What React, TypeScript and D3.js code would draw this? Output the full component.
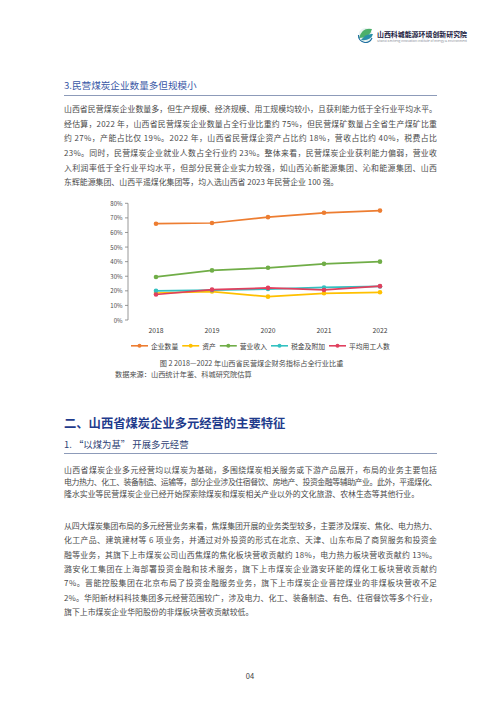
import React from "react";
import * as d3 from "d3";

const years = ["2018", "2019", "2020", "2021", "2022"];
const enterpriseCount = [66, 66.5, 70.5, 73.5, 75];
const assets = [18.5, 19.5, 16, 18.3, 19];
const revenue = [29.5, 34, 35.8, 38.5, 40];
const taxes = [20, 20.5, 21.2, 22.3, 23];
const employees = [17.5, 20.8, 22, 20.6, 23.2];
const seriesNames = ["企业数量", "资产", "营业收入", "税金及附加", "平均用工人数"];
const seriesColors = ["#ED7D31", "#FFC000", "#70AD47", "#33C1C1", "#E0405E"];
const yTicks = [0, 10, 20, 30, 40, 50, 60, 70, 80];

const para1 = [
  "山西省民营煤炭企业数量多，但生产规模、经济规模、用工规模均较小，且获利能力低于全行业平均水平。",
  "经估算，2022 年，山西省民营煤炭企业数量占全行业比重约 75%，但民营煤矿数量占全省生产煤矿比重",
  "约 27%，产能占比仅 19%。2022 年，山西省民营煤企资产占比约 18%，营收占比约 40%，税费占比",
  "23%。同时，民营煤炭企业就业人数占全行业约 23%。整体来看，民营煤炭企业获利能力偏弱，营业收",
  "入利润率低于全行业平均水平，但部分民营企业实力较强，如山西沁新能源集团、沁和能源集团、山西",
  "东辉能源集团、山西平遥煤化集团等，均入选山西省 2023 年民营企业 100 强。",
];
const para2 = [
  "山西省煤炭企业多元经营均以煤炭为基础，多围绕煤炭相关服务或下游产品展开，布局的业务主要包括",
  "电力热力、化工、装备制造、运输等，部分企业涉及住宿餐饮、房地产、投资金融等辅助产业。此外，平遥煤化、",
  "隆水实业等民营煤炭企业已经开始探索除煤炭和煤炭相关产业以外的文化旅游、农林生态等其他行业。",
];
const para3 = [
  "从四大煤炭集团布局的多元经营业务来看，焦煤集团开展的业务类型较多，主要涉及煤炭、焦化、电力热力、",
  "化工产品、建筑建材等 6 项业务，并通过对外投资的形式在北京、天津、山东布局了商贸服务和投资金",
  "融等业务，其旗下上市煤炭公司山西焦煤的焦化板块营收贡献约 18%，电力热力板块营收贡献约 13%。",
  "潞安化工集团在上海部署投资金融和技术服务，旗下上市煤炭企业潞安环能的煤化工板块营收贡献约",
  "7%。晋能控股集团在北京布局了投资金融服务业务，旗下上市煤炭企业晋控煤业的非煤板块营收不足",
  "2%。华阳新材料科技集团多元经营范围较广，涉及电力、化工、装备制造、有色、住宿餐饮等多个行业，",
  "旗下上市煤炭企业华阳股份的非煤板块营收贡献较低。",
];

const FONT = "'Noto Sans CJK SC', 'Noto Sans', sans-serif";
const BODY = "#4a4a4a";

function Paragraph({ lines, y0, step }: { lines: string[]; y0: number; step: number }) {
  return (
    <g>
      {lines.map((l, i) => {
        const last = i === lines.length - 1;
        return (
          <text
            key={i}
            x={64}
            y={y0 + i * step}
            fontSize={7.9}
            fill={BODY}
            dominantBaseline="central"
            {...(last ? {} : { textLength: 373, lengthAdjust: "spacing" })}
          >
            {l}
          </text>
        );
      })}
    </g>
  );
}

export default function App() {
  const series = [enterpriseCount, assets, revenue, taxes, employees];
  const x = d3.scalePoint<string>().domain(years).range([128, 408]).padding(0.5);
  const y = d3.scaleLinear().domain([0, 80]).range([320, 203.3]);
  const line = d3
    .line<number>()
    .x((_, i) => x(years[i]) as number)
    .y((d) => y(d));

  const legFont = 6.8;
  const widths = seriesNames.map((n) => n.length * legFont);
  const legStarts: number[] = [];
  let cx = 131;
  widths.forEach((w) => {
    legStarts.push(cx);
    cx += 17 + 3 + w + 4;
  });

  return (
    <div style={{ position: "absolute", left: 0, top: 0 }}>
      <svg width={500} height={701} style={{ display: "block", fontFamily: FONT }}>
        <rect width={500} height={701} fill="#ffffff" />

        {/* logo */}
        <g>
          <circle cx={365.5} cy={35} r={7} fill="#e8f3f1" />
          <path d="M359 38 Q362 27 372 29 Q370 38 359 38 Z" fill="#4caf6a" />
          <path d="M361 40 Q366 33 373 34 Q371 41 361 40 Z" fill="#2a8fa8" />
          <path d="M358.5 35 A7 7 0 0 0 372 38" fill="none" stroke="#1f6fa0" strokeWidth={1.2} />
          <text x={377} y={33.5} fontSize={6.9} fontWeight={700} fill="#1a2040" dominantBaseline="central" textLength={90} lengthAdjust="spacingAndGlyphs">
            山西科城能源环境创新研究院
          </text>
          <text x={377} y={40.5} fontSize={2.6} fill="#8a8f99" dominantBaseline="central" textLength={90} lengthAdjust="spacingAndGlyphs">
            Shanxi Kecheng Innovation Institute of Energy &amp; Environment
          </text>
        </g>

        {/* section 3 header */}
        <text x={64} y={85} fontSize={9.6} fill="#3a58a6" dominantBaseline="central">
          3.民营煤炭企业数量多但规模小
        </text>
        <line x1={64} x2={437} y1={95.5} y2={95.5} stroke="#8d9bb9" strokeWidth={1} />

        <Paragraph lines={para1} y0={108.3} step={14.7} />

        {/* chart */}
        <g>
          <line x1={128} x2={128} y1={y(80)} y2={y(0)} stroke="#7f7f7f" strokeWidth={0.8} />
          {yTicks.map((t) => (
            <g key={t}>
              <line x1={125} x2={128} y1={y(t)} y2={y(t)} stroke="#7f7f7f" strokeWidth={0.8} />
              <text x={122.5} y={y(t)} fontSize={6} fill="#4a4a4a" textAnchor="end" dominantBaseline="central">
                {t}%
              </text>
            </g>
          ))}
          {years.map((yr) => (
            <text key={yr} x={x(yr)} y={329.5} fontSize={6.8} fill="#404040" textAnchor="middle" dominantBaseline="central">
              {yr}
            </text>
          ))}
          {series.map((s, si) => (
            <g key={si}>
              <path d={line(s) || ""} fill="none" stroke={seriesColors[si]} strokeWidth={1.7} />
              {s.map((v, i) => (
                <circle key={i} cx={x(years[i])} cy={y(v)} r={2.3} fill={seriesColors[si]} />
              ))}
            </g>
          ))}
          {seriesNames.map((n, i) => (
            <g key={n}>
              <line x1={legStarts[i]} x2={legStarts[i] + 17} y1={345.8} y2={345.8} stroke={seriesColors[i]} strokeWidth={1.6} />
              <circle cx={legStarts[i] + 8.5} cy={345.8} r={2} fill={seriesColors[i]} />
              <text x={legStarts[i] + 20} y={345.8} fontSize={legFont} fill="#404040" dominantBaseline="central">
                {n}
              </text>
            </g>
          ))}
          <text x={251.5} y={362.8} fontSize={7.2} fill="#4a4a4a" textAnchor="middle" dominantBaseline="central">
            图 2  2018—2022 年山西省民营煤企财务指标占全行业比重
          </text>
          <text x={115} y={373.5} fontSize={7.2} fill="#4a4a4a" dominantBaseline="central">
            数据来源：山西统计年鉴、科城研究院估算
          </text>
        </g>

        {/* section 二 */}
        <text x={64} y={422.7} fontSize={12.3} fontWeight={700} fill="#1f3b8c" dominantBaseline="central">
          二、山西省煤炭企业多元经营的主要特征
        </text>
        <text x={64} y={444} fontSize={9.4} fill="#2f3f74" dominantBaseline="central">
          1. “以煤为基” 开展多元经营
        </text>
        <line x1={64} x2={437} y1={453.5} y2={453.5} stroke="#8d9bb9" strokeWidth={1} />

        <Paragraph lines={para2} y0={469} step={12.4} />
        <Paragraph lines={para3} y0={525.5} step={14.3} />

        <text x={250} y={675} fontSize={7.5} fill="#404040" textAnchor="middle" dominantBaseline="central">
          04
        </text>
      </svg>
    </div>
  );
}
